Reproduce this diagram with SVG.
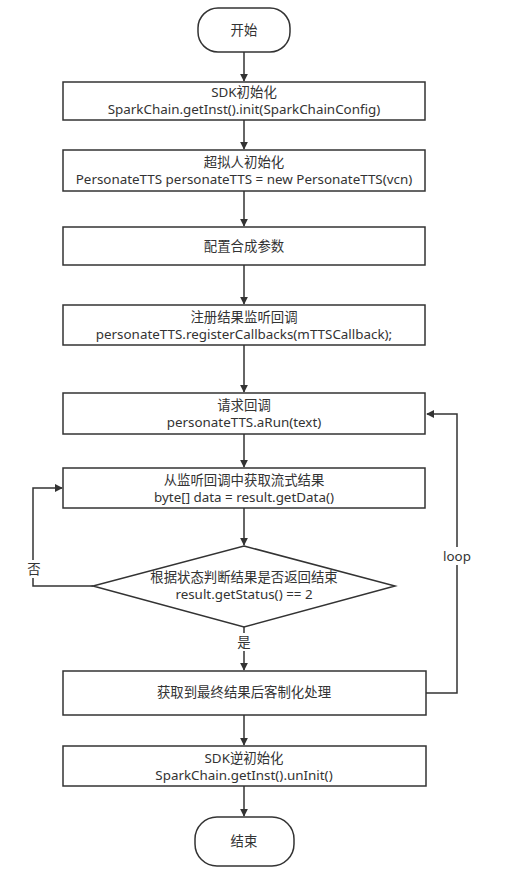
<svg xmlns="http://www.w3.org/2000/svg" width="511" height="879" viewBox="0 0 511 879">
<style>
.n{fill:#fff;stroke:#333;stroke-width:1.5}
.t{font-family:"Segoe UI","Noto Sans","Noto Sans CJK SC",sans-serif;font-size:13.4px;fill:#333;text-anchor:middle}
.c{fill:none;stroke:#333;stroke-width:1.5}
</style>
<defs>
<marker id="a" viewBox="0 0 10 10" refX="9" refY="5" markerWidth="8" markerHeight="8" markerUnits="userSpaceOnUse" orient="auto"><path d="M0,0L10,5L0,10z" fill="#333"/></marker>
</defs>
<rect width="511" height="879" fill="#fff"/>
<g id="connectors">
<path class="c" d="M244,52V81" marker-end="url(#a)"/>
<path class="c" d="M244,120V149" marker-end="url(#a)"/>
<path class="c" d="M244,191V226" marker-end="url(#a)"/>
<path class="c" d="M244,265V304" marker-end="url(#a)"/>
<path class="c" d="M244,345V392" marker-end="url(#a)"/>
<path class="c" d="M244,434V467" marker-end="url(#a)"/>
<path class="c" d="M244,508V545" marker-end="url(#a)"/>
<path class="c" d="M93,586H33V488H62" marker-end="url(#a)"/>
<path class="c" d="M244,627V670" marker-end="url(#a)"/>
<path class="c" d="M426,693H457V414H427" marker-end="url(#a)"/>
<path class="c" d="M244,715V745" marker-end="url(#a)"/>
<path class="c" d="M244,786V816" marker-end="url(#a)"/>
<rect x="24" y="560" width="20" height="18" fill="#fff"/>
<text class="t" x="34" y="574">否</text>
<rect x="234" y="633" width="20" height="18" fill="#fff"/>
<text class="t" x="244" y="647">是</text>
<rect x="441" y="547" width="32" height="18" fill="#fff"/>
<text class="t" x="457" y="561">loop</text>
</g>
<g id="start"><rect class="n" x="198" y="8" width="92" height="44" rx="20"/><text class="t" x="244" y="35">开始</text></g>
<g id="sdkinit"><rect class="n" x="63" y="82" width="362" height="38"/><text class="t" x="244" y="97">SDK初始化</text><text class="t" x="244" y="114">SparkChain.getInst().init(SparkChainConfig)</text></g>
<g id="ttsinit"><rect class="n" x="63" y="150" width="362" height="41"/><text class="t" x="244" y="167">超拟人初始化</text><text class="t" x="244" y="184">PersonateTTS personateTTS = new PersonateTTS(vcn)</text></g>
<g id="params"><rect class="n" x="63" y="227" width="362" height="38"/><text class="t" x="244" y="251">配置合成参数</text></g>
<g id="register"><rect class="n" x="63" y="305" width="362" height="40"/><text class="t" x="244" y="322">注册结果监听回调</text><text class="t" x="244" y="339">personateTTS.registerCallbacks(mTTSCallback);</text></g>
<g id="run"><rect class="n" x="63" y="393" width="362" height="41"/><text class="t" x="244" y="410">请求回调</text><text class="t" x="244" y="427">personateTTS.aRun(text)</text></g>
<g id="getdata"><rect class="n" x="63" y="468" width="362" height="40"/><text class="t" x="244" y="485">从监听回调中获取流式结果</text><text class="t" x="244" y="502">byte[] data = result.getData()</text></g>
<g id="decide"><path class="n" d="M244,546L395,586L244,627L93,586z"/><text class="t" x="244" y="582">根据状态判断结果是否返回结束</text><text class="t" x="244" y="599">result.getStatus() == 2</text></g>
<g id="final"><rect class="n" x="63" y="671" width="363" height="44"/><text class="t" x="244" y="697">获取到最终结果后客制化处理</text></g>
<g id="uninit"><rect class="n" x="63" y="746" width="363" height="40"/><text class="t" x="244" y="763">SDK逆初始化</text><text class="t" x="244" y="780">SparkChain.getInst().unInit()</text></g>
<g id="end"><rect class="n" x="195" y="817" width="99" height="49" rx="22"/><text class="t" x="244" y="846">结束</text></g>
</svg>
